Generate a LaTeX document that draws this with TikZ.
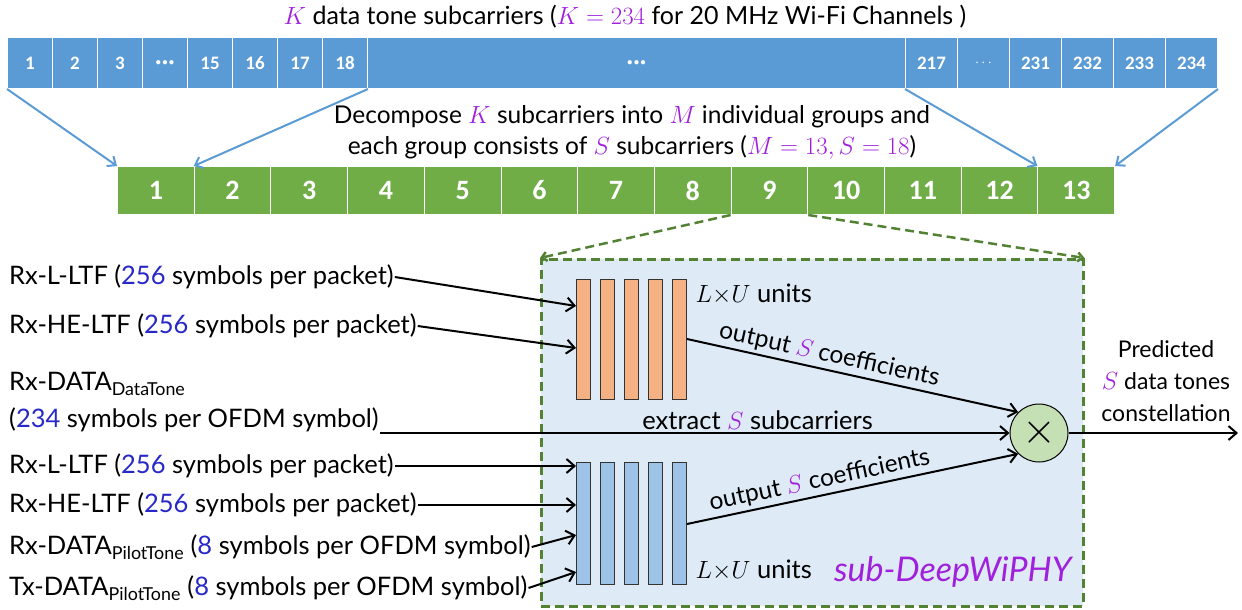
\documentclass[tikz,border=0pt]{standalone}
\usepackage{fontspec}
\setmainfont{Lato}
\newfontfamily\cellfont{Carlito}
\usetikzlibrary{arrows.meta,calc}
\definecolor{cellblue}{RGB}{91,155,213}
\definecolor{cellgreen}{RGB}{112,173,71}
\definecolor{boxfill}{RGB}{222,235,247}
\definecolor{boxedge}{RGB}{84,130,53}
\definecolor{orangebar}{RGB}{244,177,131}
\definecolor{bluebar}{RGB}{157,195,230}
\definecolor{circfill}{RGB}{197,224,180}
\definecolor{vio}{RGB}{160,32,220}
\definecolor{numblue}{RGB}{40,40,200}
\newcommand{\pv}[1]{\textcolor{vio}{$#1$}}
\newcommand{\nb}[1]{\textcolor{numblue}{#1}}
\newcommand{\bdots}{{\fontsize{10}{10}\selectfont\textbullet\,\textbullet\,\textbullet}}
\begin{document}
\begin{tikzpicture}[x=1pt,y=-1pt,
  font=\fontsize{25.5}{30}\selectfont,
  tcell/.style={draw=white, line width=1pt, fill=cellblue, text=white,
    font=\cellfont\bfseries\fontsize{19}{22}\selectfont,
    minimum height=51pt, inner sep=0pt, anchor=north west},
  gcell/.style={draw=white, line width=1pt, fill=cellgreen, text=white,
    font=\cellfont\bfseries\fontsize{28}{30}\selectfont,
    minimum width=76.7pt, minimum height=48pt, inner sep=0pt, anchor=north west},
  barrow/.style={draw=cellblue, line width=2pt, -{Straight Barb[length=7pt,width=12pt]}},
  arr/.style={draw=black, line width=2pt, -{Straight Barb[length=8pt,width=14pt]}},
  garrow/.style={draw=boxedge, line width=2.5pt, dash pattern=on 9pt off 5pt, -{Straight Barb[length=5pt,width=9pt]}},
  obar/.style={draw=black!80, line width=1pt, fill=orangebar, minimum width=14pt, minimum height=120pt, inner sep=0pt, anchor=north west},
  bbar/.style={draw=black!80, line width=1pt, fill=bluebar, minimum width=14pt, minimum height=122pt, inner sep=0pt, anchor=north west},
  intext/.style={anchor=west, inner sep=1pt},
]
\useasboundingbox (0,0) rectangle (1242,610);

% title
\node[font=\fontsize{25}{28}\selectfont] (title) at (625,17) {\pv{K} data tone subcarriers (\pv{K=234} for 20 MHz Wi-Fi Channels )};

% top cells
\node[tcell, minimum width=45pt] (t1) at (7,37) {1};
\node[tcell, minimum width=45pt] (t2) at (52,37) {2};
\node[tcell, minimum width=45pt] (t3) at (97,37) {3};
\node[tcell, minimum width=45pt] (t4) at (142,37) {\bdots};
\node[tcell, minimum width=45pt] (t15) at (187,37) {15};
\node[tcell, minimum width=45pt] (t16) at (232,37) {16};
\node[tcell, minimum width=45pt] (t17) at (277,37) {17};
\node[tcell, minimum width=45pt] (t18) at (322,37) {18};
\node[tcell, minimum width=538pt] (tbig) at (367,37) {\bdots};
\node[tcell, minimum width=52pt] (t217) at (905,37) {217};
\node[tcell, minimum width=52pt, font=\normalfont\fontsize{14}{16}\selectfont] (tdots) at (957,37) {$\cdots$};
\node[tcell, minimum width=52pt] (t231) at (1009,37) {231};
\node[tcell, minimum width=52pt] (t232) at (1061,37) {232};
\node[tcell, minimum width=52pt] (t233) at (1113,37) {233};
\node[tcell, minimum width=52pt] (t234) at (1165,37) {234};

% decompose text
\node[align=center, font=\fontsize{24.5}{31}\selectfont] (decomp) at (632,132)
  {Decompose \pv{K} subcarriers into \pv{M} individual groups and\\
   each group consists of \pv{S} subcarriers (\pv{M=13,S=18})};

% green cells
\foreach \i in {1,...,13}{
  \node[gcell] (g\i) at ({117+(\i-1)*76.7},166) {\i};
}

% blue arrows
\draw[barrow] (t1.south west) -- (g1.north west);
\draw[barrow] (t18.south east) -- (g2.north west);
\draw[barrow] (t217.south west) -- (g13.north west);
\draw[barrow] (t234.south east) -- (g13.north east);

% sub-DeepWiPHY box
\node[draw=boxedge, fill=boxfill, line width=2.5pt, dash pattern=on 9pt off 5pt,
  minimum width=542pt, minimum height=347pt, inner sep=0pt, anchor=north west] (box) at (540,258) {};

\draw[garrow] (g9.south west) -- (box.north west);
\draw[garrow] (g9.south east) -- (box.north east);

% bars
\foreach \i in {1,...,5}{
  \node[obar] (ob\i) at ({576+(\i-1)*24},279) {};
  \node[bbar] (bb\i) at ({576+(\i-1)*24},462) {};
}

\node[anchor=west] (lu1) at (692,294) {$L{\times}U$ units};
\node[anchor=west] (lu2) at (692,570) {$L{\times}U$ units};
\node[anchor=east, text=vio, font=\itshape\fontsize{34}{38}\selectfont] (sub) at (1075,572) {sub-DeepWiPHY};

% multiply
\node[circle, draw=black, line width=1pt, fill=circfill, minimum size=58pt, inner sep=0pt,
  font=\fontsize{24}{24}\selectfont] (mul) at (1039,433) {\scalebox{1.75}{$\times$}};

% inputs
\node[intext] (in1) at (8,277) {Rx-L-LTF (\nb{256} symbols per packet)};
\node[intext] (in2) at (8,326) {Rx-HE-LTF (\nb{256} symbols per packet)};
\node[intext] (in3a) at (8,384) {Rx-DATA\textsubscript{DataTone}};
\node[intext] (in3b) at (8,420) {(\nb{234} symbols per OFDM symbol)};
\node[intext] (in4) at (8,466) {Rx-L-LTF (\nb{256} symbols per packet)};
\node[intext] (in5) at (8,505) {Rx-HE-LTF (\nb{256} symbols per packet)};
\node[intext] (in6) at (8,547) {Rx-DATA\textsubscript{PilotTone} (\nb{8} symbols per OFDM symbol)};
\node[intext] (in7) at (8,588) {Tx-DATA\textsubscript{PilotTone} (\nb{8} symbols per OFDM symbol)};

\draw[arr] (in1.east) -- ($(ob1.north west)+(0,27)$);
\draw[arr] (in2.east) -- ($(ob1.north west)+(0,69)$);
\draw[arr] (in3b.east |- mul.west) -- node[pos=0.6, above, inner sep=2pt] (lx) {extract \pv{S} subcarriers} (mul.west);
\draw[arr] (in4.east) -- (in4.east -| bb1.west);
\draw[arr] (in5.east) -- (in5.east -| bb1.west);
\draw[arr] (in6.east) -- ($(bb1.north west)+(0,73)$);
\draw[arr] (in7.east) -- ($(bb1.north west)+(0,110)$);

\draw[arr] ($(ob5.north east)+(0,60)$) -- node[pos=0.42, above, sloped, inner sep=3pt, font=\fontsize{24.5}{29}\selectfont] (lo1) {output \pv{S} coefficients} (mul.north west);
\draw[arr] ($(bb5.north east)+(0,62)$) -- node[pos=0.41, above, sloped, inner sep=3pt, font=\fontsize{24.5}{29}\selectfont] (lo2) {output \pv{S} coefficients} (mul.south west);

\coordinate (outend) at (1238,433);
\draw[arr] (mul.east) -- (outend);
\node[align=center, font=\fontsize{23}{32}\selectfont] (pred) at (1166,381) {Predicted\\\pv{S} data tones\\constellation};
\end{tikzpicture}
\end{document}
